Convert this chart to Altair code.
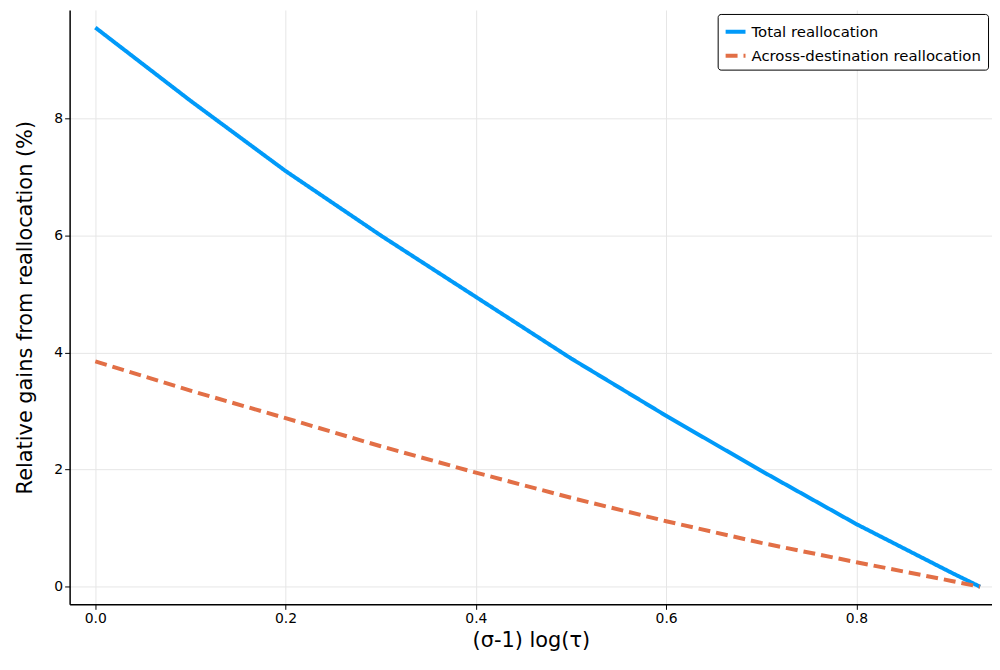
import altair as alt
import pandas as pd

x_vals = [0.0, 0.1, 0.2, 0.3, 0.4, 0.5, 0.6, 0.7, 0.8, 0.9, 0.93]
total = [9.55, 8.3, 7.1, 6.0, 4.95, 3.9, 2.92, 1.98, 1.07, 0.24, 0.0]
across = [3.85, 3.35, 2.88, 2.4, 1.95, 1.52, 1.12, 0.75, 0.42, 0.1, 0.0]
series = ["Total reallocation", "Across-destination reallocation"]

df = pd.concat([
    pd.DataFrame({"x": x_vals, "y": total, "series": series[0]}),
    pd.DataFrame({"x": x_vals, "y": across, "series": series[1]}),
])

chart = alt.Chart(df).mark_line(strokeWidth=4, clip=True).encode(
    x=alt.X("x:Q", title="(σ-1) log(τ)",
            scale=alt.Scale(domain=[-0.027, 0.9425], nice=False, zero=False),
            axis=alt.Axis(values=[0, 0.2, 0.4, 0.6, 0.8], format=".1f")),
    y=alt.Y("y:Q", title="Relative gains from reallocation (%)",
            scale=alt.Scale(domain=[-0.3, 9.85], nice=False, zero=False),
            axis=alt.Axis(values=[0, 2, 4, 6, 8], titlePadding=18)),
    color=alt.Color("series:N", sort=series, title=None,
                    scale=alt.Scale(domain=series, range=["#009af9", "#e26f46"]),
                    legend=alt.Legend(orient="top-right", offset=4, strokeColor="black",
                                      fillColor="white", padding=6, cornerRadius=3,
                                      symbolType="stroke", symbolStrokeWidth=4,
                                      symbolSize=400, labelFontSize=15, labelLimit=400,
                                      labelFont="DejaVu Sans", rowPadding=4)),
    strokeDash=alt.StrokeDash("series:N", sort=series, legend=None,
                              scale=alt.Scale(domain=series, range=[[1, 0], [12, 6]])),
).properties(
    width=928, height=598,
    autosize=alt.AutoSizeParams(type="none"),
    padding={"left": 62, "top": 0, "right": 0, "bottom": 56},
).configure_view(stroke=None).configure_axis(
    grid=True, gridColor="#e6e6e6", domainColor="black", domainWidth=1.5,
    tickColor="black", labelFont="DejaVu Sans", labelFontSize=14, labelColor="black",
    titleFont="DejaVu Sans", titleFontSize=21, titleFontWeight="normal", titleColor="black",
)

chart.save("out.html", embed_options={"renderer": "svg", "actions": False})
